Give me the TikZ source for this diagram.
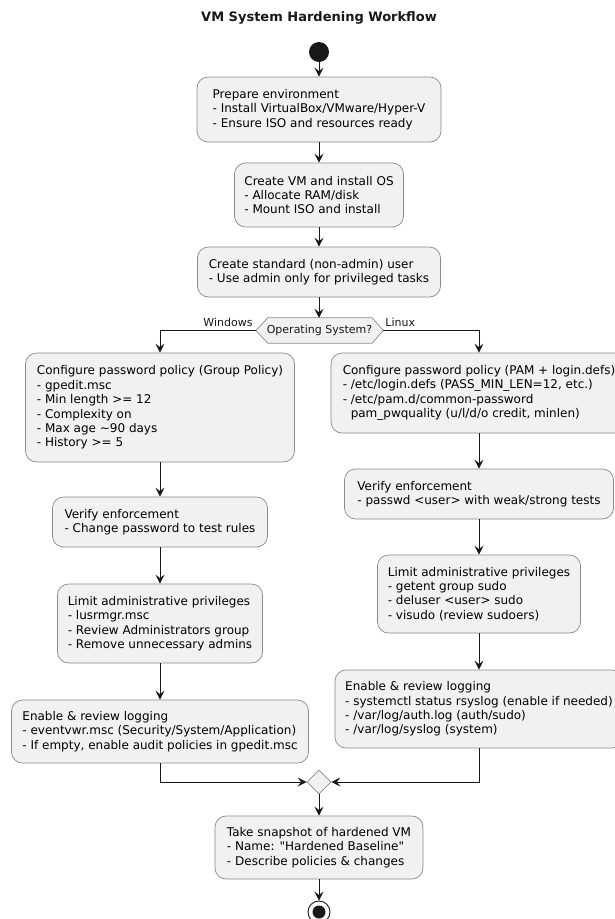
\documentclass[tikz,border=0pt]{standalone}
\usepackage{fontspec}
\setmainfont{DejaVu Sans}[Ligatures=TeXOff]
\usetikzlibrary{arrows.meta,shapes.geometric}
\definecolor{boxfill}{HTML}{F1F1F1}
\definecolor{boxline}{HTML}{8A8A8A}
\definecolor{arrowc}{HTML}{181818}
\begin{document}
\begin{tikzpicture}[x=1pt,y=-1pt,
  box/.style={rectangle, rounded corners=11pt, draw=boxline, line width=0.7pt, fill=boxfill,
    align=left, font=\fontsize{12}{14.4}\selectfont, inner sep=2pt},
  arr/.style={draw=arrowc, line width=0.9pt, -{Stealth[length=9pt,width=9pt,inset=3.5pt]}},
  lbl/.style={font=\fontsize{11}{13}\selectfont, inner sep=0pt, text=arrowc},
]
\useasboundingbox (0,0) rectangle (615,919);
\fill[white] (0,0) rectangle (615,919);
\clip (0,0) rectangle (615,919);

\node[font=\bfseries\fontsize{13}{15}\selectfont, text=arrowc] (title) at (319,18) {VM System Hardening Workflow};
\node[circle, fill=arrowc, minimum size=20pt, inner sep=0pt] (start) at (319,52) {};

\node[box, minimum width=244pt, minimum height=65pt] (prep) at (319,109.5)
  {Prepare environment\\- Install VirtualBox/VMware/Hyper-V\\- Ensure ISO and resources ready};
\node[box, minimum width=169pt, minimum height=64pt] (createvm) at (319,195)
  {Create VM and install OS\\- Allocate RAM/disk\\- Mount ISO and install};
\node[box, minimum width=243pt, minimum height=50pt] (user) at (319,272)
  {Create standard (non-admin) user\\- Use admin only for privileged tasks};

\node[minimum width=127pt, minimum height=25pt, inner sep=0pt, font=\fontsize{11}{13}\selectfont] (os) at (319.5,330.5) {};
\draw[draw=boxline, line width=0.7pt, fill=boxfill] (os.west) -- ([xshift=12pt]os.north west) -- ([xshift=-11pt]os.north east) -- (os.east) -- ([xshift=-11pt]os.south east) -- ([xshift=12pt]os.south west) -- cycle;
\node[lbl] (ostext) at (os.center) {Operating System?};

% Windows column
\node[box, minimum width=269pt, minimum height=109pt] (gp) at (160,407.5)
  {Configure password policy (Group Policy)\\- gpedit.msc\\- Min length >= 12\\- Complexity on\\- Max age \textasciitilde 90 days\\- History >= 5};
\node[box, minimum width=215pt, minimum height=50pt] (verl) at (160,522)
  {Verify enforcement\\- Change password to test rules};
\node[box, minimum width=205pt, minimum height=79pt] (liml) at (160,623.5)
  {Limit administrative privileges\\- lusrmgr.msc\\- Review Administrators group\\- Remove unnecessary admins};
\node[box, minimum width=297pt, minimum height=63pt] (logl) at (160,731.5)
  {Enable \& review logging\\- eventvwr.msc (Security/System/Application)\\- If empty, enable audit policies in gpedit.msc};

% Linux column
\node[box, minimum width=296pt, minimum height=80pt] (pam) at (479,393)
  {Configure password policy (PAM + login.defs)\\- /etc/login.defs (PASS\_MIN\_LEN=12, etc.)\\- /etc/pam.d/common-password\\\hspace*{8pt}pam\_pwquality (u/l/d/o credit, minlen)};
\node[box, minimum width=269pt, minimum height=50pt] (verr) at (479,494)
  {Verify enforcement\\- passwd <user> with weak/strong tests};
\node[box, minimum width=203pt, minimum height=78pt] (limr) at (479,594)
  {Limit administrative privileges\\- getent group sudo\\- deluser <user> sudo\\- visudo (review sudoers)};
\node[box, minimum width=288pt, minimum height=78pt] (logr) at (479,709)
  {Enable \& review logging\\- systemctl status rsyslog (enable if needed)\\- /var/log/auth.log (auth/sudo)\\- /var/log/syslog (system)};

\node[diamond, draw=boxline, line width=0.7pt, fill=boxfill, minimum width=24pt, minimum height=24pt, inner sep=0pt] (merge) at (319,782) {};
\node[box, minimum width=208pt, minimum height=63pt] (snap) at (319,847.5)
  {Take snapshot of hardened VM\\- Name: "Hardened Baseline"\\- Describe policies \& changes};
\node[circle, draw=arrowc, line width=0.9pt, fill=white, minimum size=22pt, inner sep=0pt] (stop) at (319,912) {};
\node[circle, fill=arrowc, minimum size=13pt, inner sep=0pt] (stopdot) at (stop.center) {};

% connectors
\draw[arr] (start) -- (prep);
\draw[arr] (prep) -- (createvm);
\draw[arr] (createvm) -- (user);
\draw[arr] (user.south) -- (user.south |- os.north);
\draw[arr] (os.west) -| (gp.north);
\draw[arr] (os.east) -| (pam.north);
\node[lbl, anchor=base east] (winlbl) at ([xshift=-3pt,yshift=4pt]os.west) {Windows};
\node[lbl, anchor=base west] (linlbl) at ([xshift=2pt,yshift=4pt]os.east) {Linux};
\draw[arr] (gp) -- (verl);
\draw[arr] (verl) -- (liml);
\draw[arr] (liml) -- (logl);
\draw[arr] (pam) -- (verr);
\draw[arr] (verr) -- (limr);
\draw[arr] (limr) -- (logr);
\draw[arr] (logl.south) |- (merge.west);
\draw[arr] (logr.south) |- (merge.east);
\draw[arr] (merge) -- (snap);
\draw[arr] (snap) -- (stop);
\end{tikzpicture}
\end{document}
